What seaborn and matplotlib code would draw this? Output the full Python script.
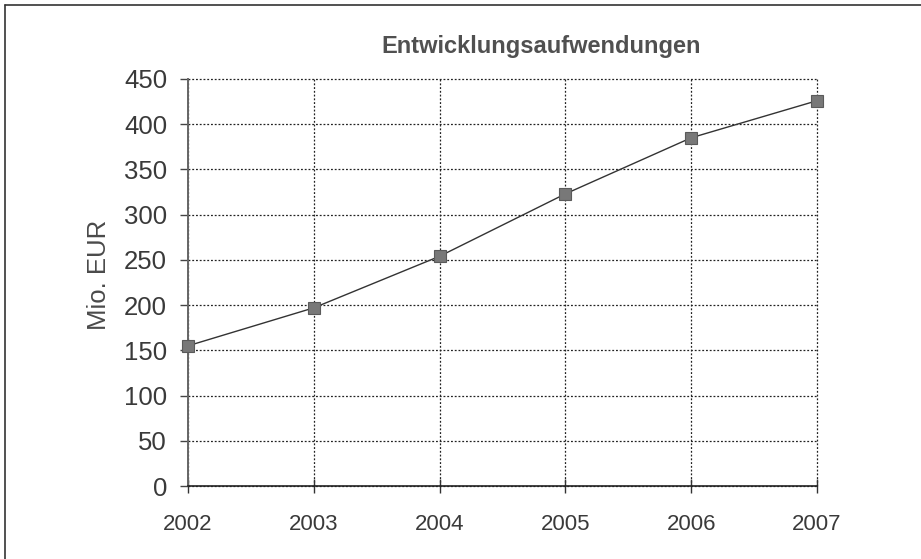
import matplotlib
matplotlib.use("Agg")
import matplotlib.pyplot as plt
from matplotlib.lines import Line2D
import seaborn as sns
import pandas as pd

# Data
years = [2002, 2003, 2004, 2005, 2006, 2007]
aufwendungen = [155, 197, 254, 323, 385, 426]
y_ticks = [0, 50, 100, 150, 200, 250, 300, 350, 400, 450]
title = "Entwicklungsaufwendungen"
y_label = "Mio. EUR"

df = pd.DataFrame({"Jahr": years, "Wert": aufwendungen})

sns.set_theme(style="white")
plt.rcParams["font.family"] = ["Liberation Sans", "DejaVu Sans"]

W, H = 921, 559
fig = plt.figure(figsize=(W / 100, H / 100), dpi=100)
fig.patch.set_facecolor("white")
ax = fig.add_axes([188 / W, 1 - 486 / H, (817 - 188) / W, (486 - 79) / H])

sns.lineplot(data=df, x="Jahr", y="Wert", ax=ax, color="#333333", linewidth=1.0,
             marker="s", markersize=8.5, markerfacecolor="#787878",
             markeredgecolor="#5a5a5a", markeredgewidth=0.8, zorder=5)

ax.set_xlim(years[0], years[-1])
ax.set_ylim(0, 450)
ax.set_xticks(years)
ax.set_xticklabels([str(y) for y in years])
ax.set_yticks(y_ticks)

# Dotted grid, including the top and right edges
ax.grid(True, which="major", axis="both", color="#222222", linestyle=(0, (1.5, 1.5)),
        linewidth=0.9)
ax.set_axisbelow(True)
for gl in ax.get_xgridlines() + ax.get_ygridlines():
    gl.set_clip_on(False)
for side in ("top", "right"):
    ax.spines[side].set_visible(False)
ax.spines["left"].set_color("#666666")
ax.spines["left"].set_linewidth(1.4)
ax.spines["bottom"].set_color("#222222")
ax.spines["bottom"].set_linewidth(1.2)
for ln in ax.get_lines():
    ln.set_clip_on(False)

ax.tick_params(axis="y", which="major", direction="out", length=6, width=1,
               color="#444444", labelsize=18.5, labelcolor="#3a3a3a", pad=9, left=True)
ax.tick_params(axis="x", which="major", direction="inout", length=10, width=1,
               color="#333333", labelsize=16, labelcolor="#3a3a3a", pad=15, bottom=True)

ax.set_xlabel("")
ax.set_ylabel("")
fig.text(99 / W, 1 - 275 / H, y_label, rotation=90, ha="center", va="center",
         fontsize=18.5, color="#4a4a4a")
fig.text(541 / W, 1 - 47 / H, title, ha="center", va="center",
         fontsize=17, fontweight="bold", color="#505050")

# Frame lines along the left and top edges
fig.add_artist(Line2D([4.5 / W, 4.5 / W], [0, 1 - 4.5 / H], transform=fig.transFigure,
                      color="#333333", linewidth=1.2))
fig.add_artist(Line2D([4.5 / W, 1], [1 - 4.5 / H, 1 - 4.5 / H], transform=fig.transFigure,
                      color="#333333", linewidth=1.2))

fig.savefig("out.png", dpi=100, facecolor="white")
